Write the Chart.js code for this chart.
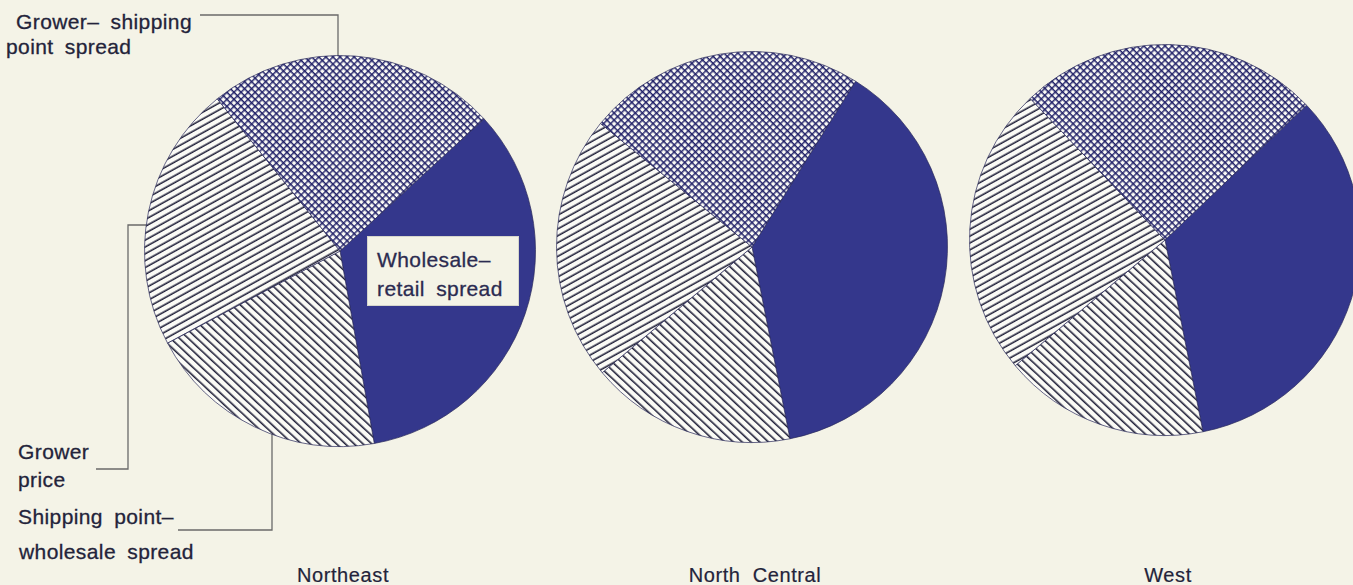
<!DOCTYPE html>
<html>
<head>
<meta charset="utf-8">
<script src="https://cdn.jsdelivr.net/npm/chart.js@4.4.1/dist/chart.umd.min.js"></script>
<style>
  html, body { margin: 0; padding: 0; }
  body { width: 1353px; height: 585px; overflow: hidden; position: relative; background: #f4f3e7;
         font-family: "Liberation Sans", Arial, Helvetica, sans-serif; color: #23233a; }
  .pie { position: absolute; }
  .lbl { position: absolute; font-size: 21px; line-height: 24px; white-space: nowrap; letter-spacing: 0.4px; word-spacing: 5px;
         -webkit-text-stroke: 0.3px #23233a; }
  .ttl { position: absolute; width: 240px; text-align: center; font-size: 20px; line-height: 24px; letter-spacing: 0.6px; word-spacing: 6px;
         -webkit-text-stroke: 0.2px #23233a; }
  #wbox { position: absolute; left: 367px; top: 236px; width: 152px; height: 70px; background: #f4f3e6;
          border: 1px solid #d6d6cc; box-sizing: border-box; padding: 8px 0 0 9px; font-size: 21px; line-height: 29px;
          letter-spacing: 0.4px; word-spacing: 5px; color: #2b2b50; white-space: nowrap; -webkit-text-stroke: 0.3px #2b2b50; }
  svg { position: absolute; left: 0; top: 0; }
</style>
</head>
<body>
<svg width="1353" height="585">
  <g fill="none" stroke="#6a6a6a" stroke-width="1.3">
    <polyline points="200,15 338,15 338,56"/>
    <polyline points="147,225 128,225 128,469 96,469"/>
    <polyline points="272,434 272,530 178,530"/>
  </g>
</svg>
<canvas id="c0" class="pie" width="396" height="396"></canvas>
<canvas id="c1" class="pie" width="396" height="396"></canvas>
<canvas id="c2" class="pie" width="396" height="396"></canvas>

<div class="lbl" style="left:16px; top:10px;">Grower– shipping</div>
<div class="lbl" style="left:6px; top:35px;">point spread</div>
<div class="lbl" style="left:18px; top:440px;">Grower</div>
<div class="lbl" style="left:18px; top:468px;">price</div>
<div class="lbl" style="left:18px; top:505px;">Shipping point–</div>
<div class="lbl" style="left:19px; top:540px;">wholesale spread</div>
<div id="wbox">Wholesale–<br>retail spread</div>
<div id="t0" class="ttl"></div>
<div id="t1" class="ttl"></div>
<div id="t2" class="ttl"></div>

<script>
// ---- Data (percent shares) ----
const regions = ['Northeast', 'North Central', 'West'];
const segments = ['Wholesale–retail spread', 'Shipping point–wholesale spread', 'Grower price', 'Grower–shipping point spread'];
const northeast    = [34, 20, 22, 24];
const northCentral = [38, 17, 22, 23];
const west         = [34, 17, 24, 25];

// ---- Layout / style ----
const seriesByRegion = [northeast, northCentral, west];
const pieLayout = [
  { cx: 340, cy: 251, rotation: 47.5 },
  { cx: 752, cy: 247, rotation: 32 },
  { cx: 1165, cy: 240, rotation: 46.4 }
];
const NAVY = '#34378c';

function linePattern(spacing, angle, color, width) {
  const t = document.createElement('canvas');
  t.width = 16; t.height = spacing;
  const g = t.getContext('2d');
  g.fillStyle = '#fbfbf6';
  g.fillRect(0, 0, t.width, t.height);
  g.strokeStyle = color; g.lineWidth = width;
  g.beginPath(); g.moveTo(0, spacing / 2); g.lineTo(t.width, spacing / 2); g.stroke();
  const ctx = document.createElement('canvas').getContext('2d');
  const p = ctx.createPattern(t, 'repeat');
  p.setTransform(new DOMMatrix().rotateSelf(angle));
  return p;
}
function gridPattern(spacing, angle, color, width) {
  const t = document.createElement('canvas');
  t.width = spacing; t.height = spacing;
  const g = t.getContext('2d');
  g.fillStyle = '#fbfbf6';
  g.fillRect(0, 0, spacing, spacing);
  g.strokeStyle = color; g.lineWidth = width;
  g.beginPath();
  g.moveTo(0, spacing / 2); g.lineTo(spacing, spacing / 2);
  g.moveTo(spacing / 2, 0); g.lineTo(spacing / 2, spacing);
  g.stroke();
  const ctx = document.createElement('canvas').getContext('2d');
  const p = ctx.createPattern(t, 'repeat');
  p.setTransform(new DOMMatrix().rotateSelf(angle));
  return p;
}

const fills = [
  NAVY,
  linePattern(6.4, 43, '#14142e', 1.5),     // shipping point–wholesale (\\\)
  linePattern(6.4, -29, '#14142e', 1.5),    // grower price (///)
  gridPattern(5.6, 45, '#1e1e66', 1.4)      // grower–shipping point (crosshatch)
];

regions.forEach((name, i) => {
  const L = pieLayout[i];
  const cv = document.getElementById('c' + i);
  cv.style.left = (L.cx - 198) + 'px';
  cv.style.top = (L.cy - 198) + 'px';
  const t = document.getElementById('t' + i);
  t.textContent = name;
  t.style.left = (L.cx + 3 - 120) + 'px';
  t.style.top = '563px';
  new Chart(cv, {
    type: 'pie',
    data: {
      labels: segments,
      datasets: [{
        data: seriesByRegion[i],
        backgroundColor: fills,
        borderColor: 'rgba(40,40,90,0.7)',
        borderWidth: 1
      }]
    },
    options: {
      responsive: false,
      animation: false,
      devicePixelRatio: 1,
      rotation: L.rotation,
      layout: { padding: 2 },
      plugins: { legend: { display: false }, tooltip: { enabled: false } }
    }
  });
});
</script>
</body>
</html>
